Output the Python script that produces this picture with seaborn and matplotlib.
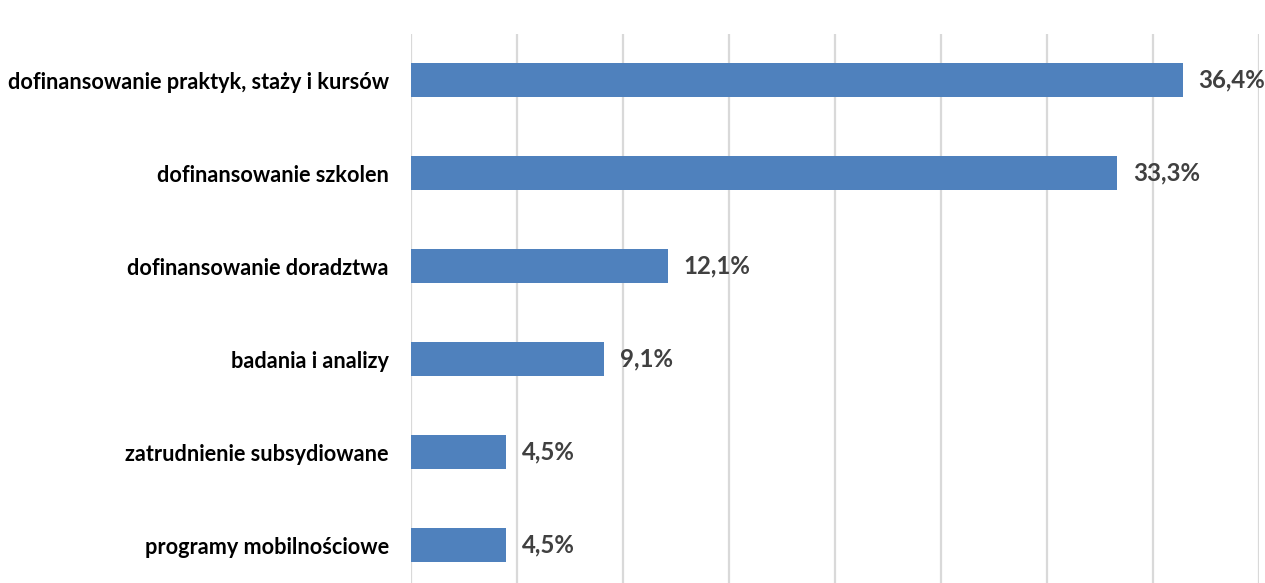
import matplotlib
matplotlib.use("Agg")
import matplotlib.pyplot as plt
import seaborn as sns
import pandas as pd

categories = [
    "dofinansowanie praktyk, staży i kursów",
    "dofinansowanie szkolen",
    "dofinansowanie doradztwa",
    "badania i analizy",
    "zatrudnienie subsydiowane",
    "programy mobilnościowe",
]
values = [36.4, 33.3, 12.1, 9.1, 4.5, 4.5]
value_labels = ["36,4%", "33,3%", "12,1%", "9,1%", "4,5%", "4,5%"]

sns.set_theme(style="white")
plt.rcParams["font.family"] = ["Lato", "DejaVu Sans"]

df = pd.DataFrame({"cat": categories, "val": values})

W, H = 1265, 583
fig = plt.figure(figsize=(W / 100, H / 100), dpi=100)
top_px, bot_px = 33.5, 591.5
left_px, right_px = 411, 1259
ax = fig.add_axes([left_px / W, 1 - bot_px / H, (right_px - left_px) / W, (bot_px - top_px) / H])

sns.barplot(data=df, y="cat", x="val", orient="h", color="#4f81bd", width=0.355,
            saturation=1, ax=ax, edgecolor="none", zorder=3)

ax.set_xlim(0, 40)
ax.set_xticks(range(0, 41, 5))
ax.set_xticklabels([])
ax.tick_params(axis="x", length=0)
ax.tick_params(axis="y", length=0, pad=16)
ax.xaxis.grid(True, color="#d9d9d9", linewidth=1.6, zorder=0)
ax.yaxis.grid(False)
for s in ax.spines.values():
    s.set_visible(False)
ax.set_xlabel("")
ax.set_ylabel("")
for lbl in ax.get_yticklabels():
    lbl.set_fontweight("bold")
    lbl.set_fontsize(15.6)
    lbl.set_color("#000000")

for i, (v, t) in enumerate(zip(values, value_labels)):
    ax.text(v + 0.75, i, t, va="center", ha="left", fontsize=17.3,
            fontweight="bold", color="#404040")

fig.savefig("out.png", dpi=100)
